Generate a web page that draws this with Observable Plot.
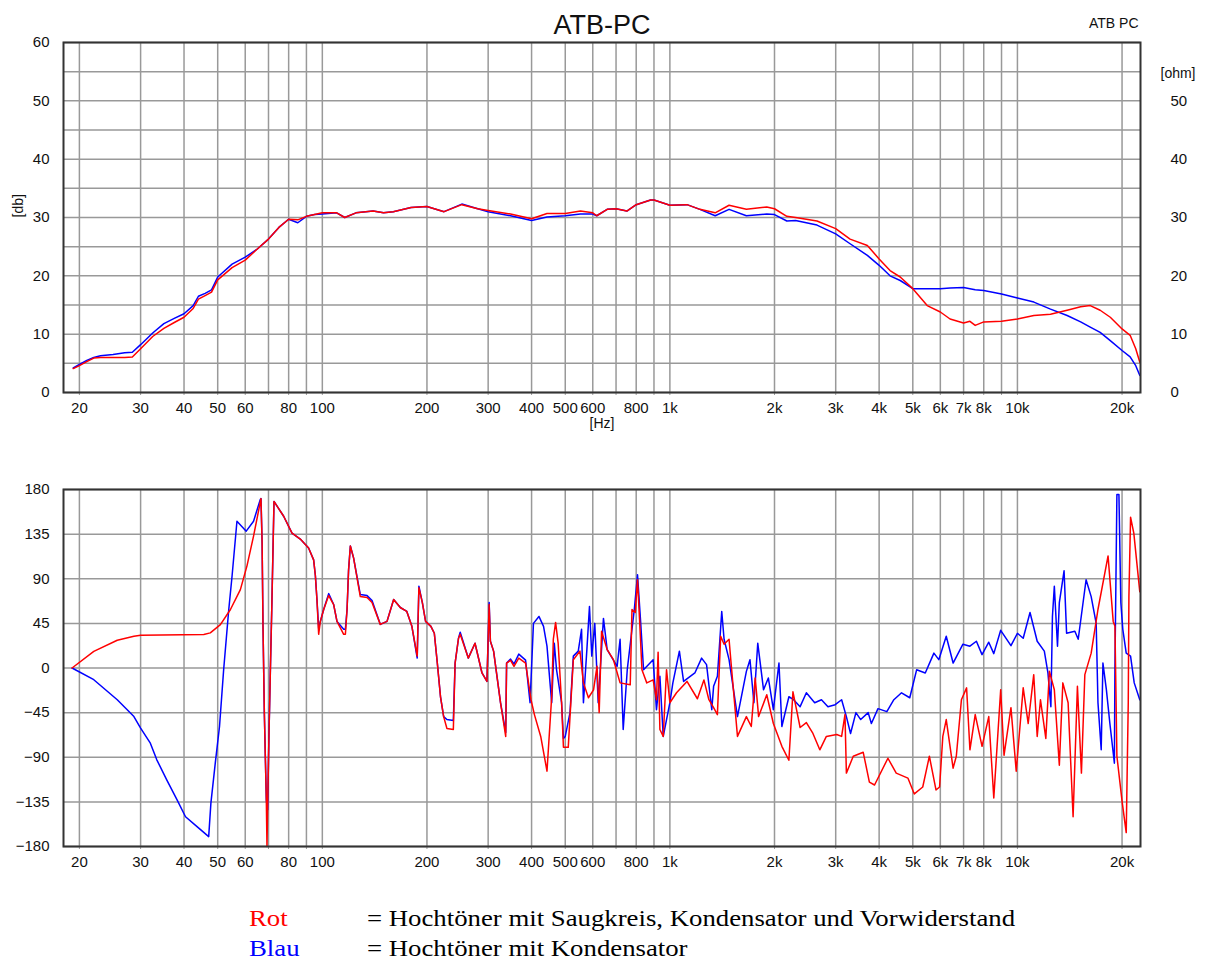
<!DOCTYPE html>
<html><head><meta charset="utf-8">
<script src="https://cdn.jsdelivr.net/npm/d3@7"></script>
<script src="https://cdn.jsdelivr.net/npm/@observablehq/plot@0.6"></script>
<style>
body{margin:0;background:#fff;}
#wrap{position:relative;width:1207px;height:960px;background:#fff;}
#top{position:absolute;left:0;top:0;}
#bot{position:absolute;left:0;top:440px;}
.leg{position:absolute;font-family:"Liberation Serif","Times New Roman",serif;font-size:24px;white-space:nowrap;line-height:1;transform:scaleX(1.115);transform-origin:0 0;}
</style></head><body>
<div id="wrap"><div id="top"></div><div id="bot"></div><div id="legend"></div></div>
<script>
// ---- axis definitions ----
const gridFreqs = [20,30,40,50,60,70,80,90,100,200,300,400,500,600,700,800,900,1000,2000,3000,4000,5000,6000,7000,8000,9000,10000,20000];
const labelFreqs = [20,30,40,50,60,80,100,200,300,400,500,600,800,1000,2000,3000,4000,5000,6000,7000,8000,10000,20000];
const labelTexts = ["20","30","40","50","60","80","100","200","300","400","500","600","800","1k","2k","3k","4k","5k","6k","7k","8k","10k","20k"];
const dbGrid = [0,5,10,15,20,25,30,35,40,45,50,55,60];
const dbTicks = [0,10,20,30,40,50,60];
const ohmTicks = [0,10,20,30,40,50];
const phaseTicks = [-180,-135,-90,-45,0,45,90,135,180];

// ---- magnitude (dB) ----
const magFreq = [19.2,20,21,22,23,25,27,28.4,30,32.5,35,37.5,40,42.5,44,46,48,50,55,60,65,70,75,80,85,90,95,100,110,116,125,140,150,160,180,200,224,252,280,300,348,400,443,500,553,600,616,660,700,752,800,880,900,1000,1120,1220,1350,1480,1660,1900,2000,2170,2300,2650,3000,3300,3700,4000,4300,4600,5000,5500,6000,6400,7000,7300,7560,8000,9000,10000,11150,12450,13900,15200,16200,17300,18500,20000,21100,21900,22500];
const magRed = [4.1,4.6,5.3,5.9,6.0,6.0,6.0,6.1,7.5,9.6,11.0,12.0,12.9,14.4,16.0,16.6,17.2,19.3,21.4,22.7,24.6,26.3,28.3,29.7,29.6,30.2,30.5,30.8,30.8,30.0,30.8,31.1,30.8,31.0,31.7,31.9,31.0,32.2,31.5,31.2,30.6,29.8,30.7,30.7,31.1,30.8,30.3,31.4,31.5,31.1,32.2,33.0,33.0,32.1,32.2,31.4,30.8,32.1,31.4,31.8,31.5,30.2,30.0,29.4,28.1,26.3,25.2,22.9,20.9,19.8,17.8,14.9,13.8,12.6,11.9,12.2,11.5,12.1,12.2,12.6,13.2,13.4,14.1,14.7,14.9,14.1,12.9,10.9,9.8,7.5,5.2];
const magBlue = [4.2,4.8,5.5,6.0,6.3,6.5,6.8,6.9,8.2,10.2,11.8,12.7,13.5,14.9,16.5,17.0,17.6,19.8,22.0,23.2,24.6,26.3,28.3,29.7,29.1,30.2,30.5,30.6,30.8,30.0,30.8,31.1,30.8,31.0,31.7,31.9,31.0,32.3,31.5,31.0,30.3,29.5,30.1,30.3,30.6,30.6,30.3,31.4,31.5,31.1,32.2,33.0,33.0,32.1,32.2,31.4,30.3,31.4,30.3,30.6,30.5,29.4,29.5,28.7,27.2,25.5,23.5,21.8,20.0,19.2,17.8,17.8,17.8,17.9,18.0,17.8,17.6,17.5,16.9,16.2,15.5,14.3,13.2,12.1,11.2,10.3,8.9,7.2,6.1,4.6,2.9];

// ---- phase (deg) [frequency, degrees] ----
const phaseRed = [[19.05,0],[22,16.8],[25.7,28],[28.7,32],[30,33],[45.6,33.7],[47.6,35.4],[50.9,43.8],[54.4,59],[58.1,79],[60.7,103],[63.4,133],[66.6,170.8],[67.1,126],[67.5,42],[68.1,-45],[69.0,-133],[69.3,-180],[69.6,-140],[70.2,-69],[70.9,0],[71.6,66],[72.6,168],[77.4,153],[81.8,136],[86.4,130],[91.3,121],[94.4,109],[95.5,93],[96.5,69],[97.6,34],[98.7,47],[100.9,59],[104.3,73],[107.8,64],[110.2,47],[115.2,34],[116.5,34],[117.8,59],[119,99],[120.4,123],[123,111],[128.6,72],[134.5,71],[139,66],[146.8,44],[153.5,47],[160.4,69],[167.6,61],[175,57],[181,42],[187.5,12],[189.6,81],[194,66],[198.2,47],[205.3,42],[210,35],[214.2,5],[218.8,-29],[223.4,-49],[228.3,-61],[238.2,-62],[241,5],[246.5,30],[249.3,34],[263,10],[275,25],[288,-5],[297.6,-13.5],[302,64],[304.5,27],[311,17],[325.6,-35],[337,-69],[339,5],[348,7.7],[356,1.7],[367.5,10],[384.4,5],[398.5,-32],[407.6,-47],[425,-69],[443,-104],[457,-29],[462,29],[469,46],[477,25],[488,-35],[494,-80],[510,-80],[516,-49],[527.5,8.4],[551,17],[564,-15],[583,-30],[603,-22],[617,1.7],[626,-45],[636,37],[660,18.5],[688,8.4],[719,-15],[769,-17],[778,59],[795,56],[807,89],[818,49],[831,-1.7],[858,-15],[895,-12],[915,-32],[925,16],[936,-62],[957,-69],[978,-1.7],[1000,-35],[1045,-25],[1120,-13.5],[1200,-31],[1253,-12],[1295,-32],[1336,-40],[1370,-47],[1400,32],[1432,24],[1480,29],[1500,5],[1565,-69],[1660,-49],[1715,-59],[1760,-10],[1800,-49],[1900,-27],[1985,-56],[2100,-79],[2200,-93],[2260,-24],[2370,-60],[2470,-55],[2580,-66],[2700,-82.5],[2820,-69],[3020,-67],[3120,-69],[3190,-47],[3220,-106],[3370,-89],[3600,-85],[3750,-115],[3880,-118],[4240,-91],[4480,-106],[4840,-111],[5050,-127],[5340,-120],[5580,-89],[5830,-123],[5970,-120],[6100,-69],[6240,-52],[6530,-101],[6670,-89],[6900,-32],[7140,-20],[7300,-82.5],[7560,-47],[7910,-79],[8270,-49],[8550,-131],[8950,-22],[9150,-88],[9580,-40],[9920,-104],[10390,-20],[10740,-56],[11140,-6.7],[11400,-69],[11650,-32],[12070,-71],[12360,-3.4],[12770,-22],[13200,-98],[13510,-15],[13990,-35],[14460,-150],[14880,-18.5],[15280,-106],[15630,-6.7],[16300,15],[17050,59],[18230,113],[18860,47],[19080,42],[19330,-89],[20030,-136],[20560,-166],[20840,-35],[20930,72],[21160,152],[21620,136],[22490,77]];
const phaseBlue = [[19.05,0],[22,-11.8],[25.7,-32],[28.7,-49],[30,-60.6],[32.0,-75.8],[33.4,-92.6],[35.7,-113],[38.2,-133],[40.4,-150],[43.6,-160],[47.1,-170],[47.8,-136],[49.2,-96],[50.6,-59],[52.0,-2],[53.8,59],[55,93],[56.8,148],[60.4,138],[63.4,148],[66.3,170],[66.6,170.8],[67.1,126],[67.5,42],[68.1,-45],[69.0,-133],[69.6,-143],[70.2,-69],[70.9,0],[71.6,66],[72.6,168],[77.4,153],[81.8,136],[86.4,130],[91.3,121],[94.4,109],[95.5,93],[96.5,69],[97.6,40],[98.7,47],[100.9,59],[104.3,75],[107.8,64],[110.2,47],[115.2,39],[116.5,39],[117.8,59],[119,99],[120.4,123],[123,111],[128.6,74],[134.5,73],[139,68],[146.8,44],[153.5,47],[160.4,69],[167.6,61],[175,57],[181,42],[187.5,10],[189.6,82.5],[194,66],[198.2,47],[205.3,42],[210,35],[214.2,5],[218.8,-29],[223.4,-49],[228.3,-52],[238.2,-53],[241,5],[246.5,30],[249.3,36],[263,10],[275,25],[288,-5],[297.6,-13.5],[302,66],[304.5,27],[311,17],[325.6,-35],[337,-65],[339,5],[348,9],[356,4],[367.5,14],[384.4,8],[396,-35],[405,45],[420,52],[433,42],[443,22],[452,-15],[457,-35],[465,25],[472,-2],[488,-35],[494,-71],[500,-69],[516,-45],[527.5,12],[545,17],[557,39],[564,-35],[577,18.5],[587,62],[596,12],[608,45],[622,-35],[644,50],[660,18.5],[705,1.7],[719,29],[734,-62],[754,-1.7],[790,59],[807,94],[823,49],[840,-1.7],[895,8.4],[915,-42],[936,-8.4],[957,-69],[1000,-35],[1020,-15],[1065,17],[1095,-13.5],[1180,-5],[1234,10],[1275,3.4],[1320,-42],[1336,-18.5],[1370,-8.4],[1410,57],[1432,29],[1480,8.4],[1565,-49],[1660,-3.4],[1700,8.4],[1745,-35],[1790,25],[1860,-22],[1920,-10],[1985,-42],[2060,5],[2100,-59],[2200,-29],[2270,-32],[2370,-39],[2470,-25],[2610,-35],[2730,-32],[2850,-39],[2990,-37],[3120,-32],[3220,-49],[3310,-66],[3430,-45],[3540,-52],[3720,-45],[3800,-56],[3970,-41],[4210,-44],[4410,-32],[4640,-25],[4900,-30],[5130,-1.7],[5430,-5],[5750,15],[5940,8.4],[6240,32],[6530,5],[6970,24],[7300,22],[7620,27],[7910,13.5],[8270,26],[8550,14.5],[8950,38],[9580,22.5],[10000,35],[10390,30],[10870,56],[11400,27],[11950,17],[12240,-5],[12480,-39],[12610,52],[12770,82.5],[13040,22],[13200,66],[13620,98],[13850,35],[14630,37],[14960,29],[15760,89],[16300,72],[16850,45],[17050,-35],[17420,-82.5],[17620,5],[18030,-22],[18450,-56],[19010,-96],[19080,1.7],[19330,175],[19590,175],[19840,66],[20100,39],[20560,15],[21160,12],[21680,-15],[22490,-32]];

// ---- texts ----
const titleText = "ATB-PC";
const cornerText = "ATB PC";
const legendNames = ["Rot","Blau"];
const legendColors = ["#ff0000","#0000ff"];
const legendDescs = ["= Hochtöner mit Saugkreis, Kondensator und Vorwiderstand","= Hochtöner mit Kondensator"];

// ---- build tables ----
const magData = magFreq.map((f,i)=>({f, r:magRed[i], b:magBlue[i]}));
const redP = phaseRed.map(([f,v])=>({f,v}));
const blueP = phaseBlue.map(([f,v])=>({f,v}));
const xLabels = labelFreqs.map((f,i)=>({f, t:labelTexts[i]}));

const fontStyle = {fontSize:"15px", fontFamily:"'Liberation Sans', Arial, sans-serif", color:"#111", background:"transparent", overflow:"visible"};
const GRID = "#999";

function xAxisMarks(){
  return [
    Plot.axisX(gridFreqs,{tickFormat:()=>"", tickSize:3, stroke:GRID, label:null}),
    Plot.text(xLabels,{x:"f", text:"t", frameAnchor:"bottom", lineAnchor:"middle", dy:16, fill:"#111"})
  ];
}

const topPlot = Plot.plot({
  width:1207, height:440, marginLeft:63, marginRight:67, marginTop:42, marginBottom:48,
  style:fontStyle,
  x:{type:"log", domain:[18,22600]},
  y:{domain:[0,60]},
  marks:[
    Plot.ruleX(gridFreqs,{stroke:GRID,strokeWidth:1.5}),
    Plot.ruleY(dbGrid,{stroke:GRID,strokeWidth:1.5}),
    ...xAxisMarks(),
    Plot.axisY(dbTicks,{anchor:"left", tickSize:0, tickPadding:14, label:null}),
    Plot.axisY(ohmTicks,{anchor:"right", tickSize:0, tickPadding:30, textAnchor:"start", label:null}),
    Plot.line(magData,{x:"f", y:"b", stroke:"#0000ff", strokeWidth:1.5}),
    Plot.line(magData,{x:"f", y:"r", stroke:"#ff0000", strokeWidth:1.5}),
    Plot.frame({stroke:"#333", strokeWidth:2}),
    Plot.text([titleText],{frameAnchor:"top", lineAnchor:"middle", dy:-17, fontSize:27}),
    Plot.text([cornerText],{frameAnchor:"top-right", lineAnchor:"middle", dy:-19, dx:-2, textAnchor:"end", fontSize:14}),
    Plot.text(["[ohm]"],{frameAnchor:"top-right", lineAnchor:"middle", dx:20, dy:31, textAnchor:"start", fontSize:14}),
    Plot.text(["[db]"],{frameAnchor:"left", lineAnchor:"middle", dx:-45, rotate:-90, fontSize:14}),
    Plot.text(["[Hz]"],{frameAnchor:"bottom", lineAnchor:"middle", dy:31, fontSize:14})
  ]
});
document.getElementById("top").appendChild(topPlot);

const botPlot = Plot.plot({
  width:1207, height:440, marginLeft:63, marginRight:67, marginTop:49, marginBottom:34,
  style:fontStyle,
  x:{type:"log", domain:[18,22600]},
  y:{domain:[-180,180]},
  marks:[
    Plot.ruleX(gridFreqs,{stroke:GRID,strokeWidth:1.5}),
    Plot.ruleY(phaseTicks,{stroke:GRID,strokeWidth:1.5}),
    ...xAxisMarks(),
    Plot.axisY(phaseTicks,{anchor:"left", tickSize:0, tickPadding:14, label:null}),
    Plot.line(blueP,{x:"f", y:"v", stroke:"#0000ff", strokeWidth:1.5}),
    Plot.line(redP,{x:"f", y:"v", stroke:"#ff0000", strokeWidth:1.5}),
    Plot.frame({stroke:"#333", strokeWidth:2})
  ]
});
document.getElementById("bot").appendChild(botPlot);

const leg = document.getElementById("legend");
legendNames.forEach((n,i)=>{
  const a = document.createElement("div");
  a.className="leg"; a.style.left="249px"; a.style.top=(906+30*i)+"px"; a.style.color=legendColors[i];
  a.textContent=n; leg.appendChild(a);
  const b = document.createElement("div");
  b.className="leg"; b.style.left="367px"; b.style.top=(906+30*i)+"px"; b.style.color="#000";
  b.textContent=legendDescs[i]; leg.appendChild(b);
});
</script>
</body></html>
